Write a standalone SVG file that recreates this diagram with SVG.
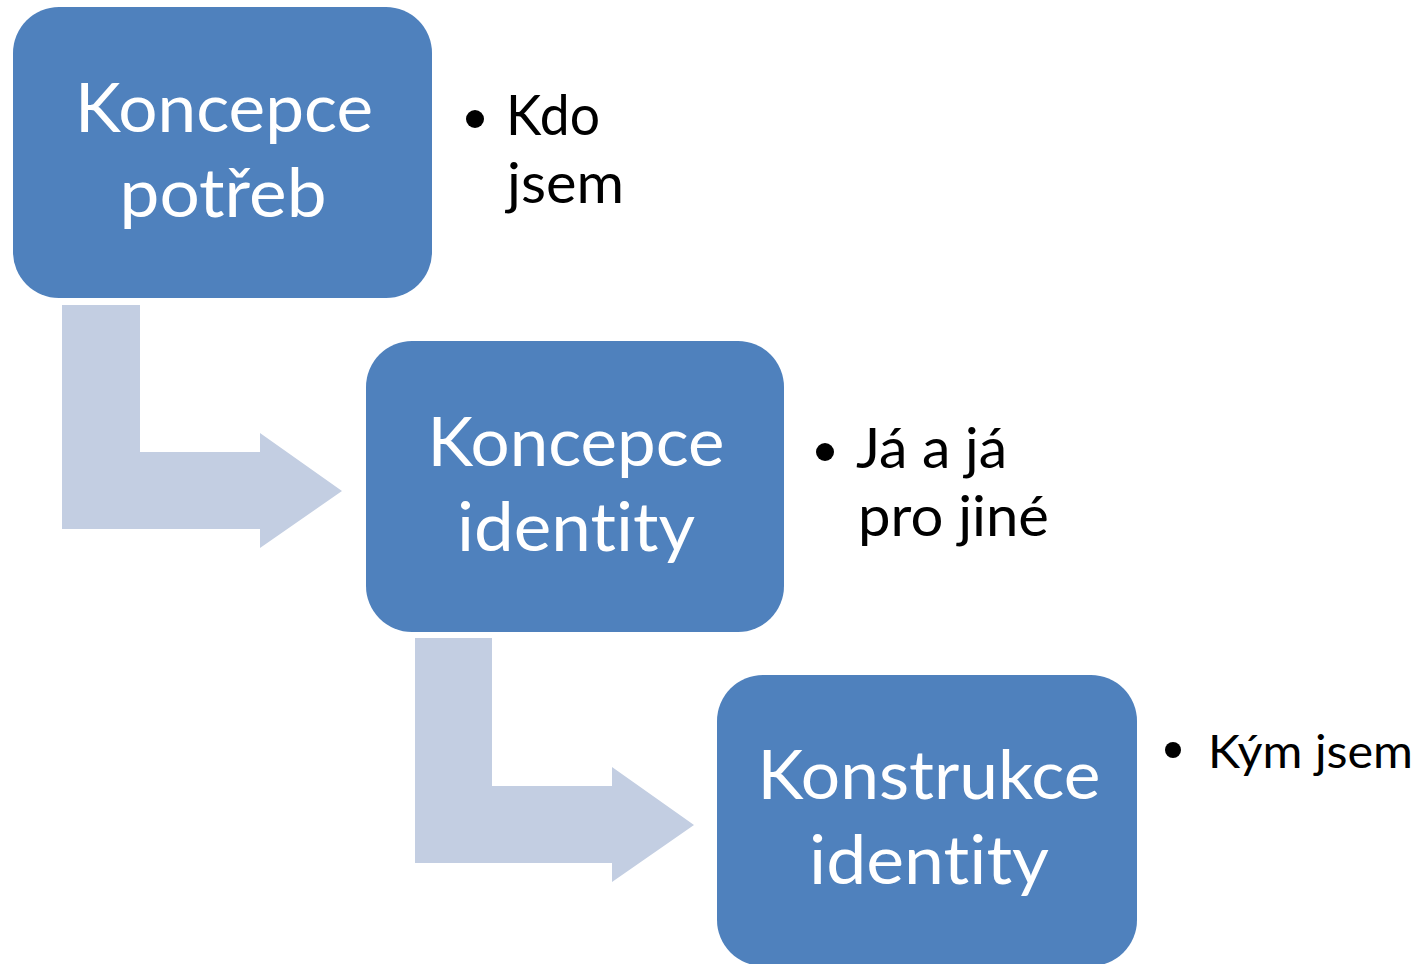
<svg xmlns="http://www.w3.org/2000/svg" width="1421" height="964" viewBox="0 0 1421 964">
<style>
text{font-variant-ligatures:none;font-feature-settings:"liga" 0,"dlig" 0}
.box{fill:#4F81BD}
.arrow{fill:#C3CEE2}
.bt{font-family:Lato,"Open Sans",sans-serif;font-size:68px;fill:#FFFFFF;text-anchor:middle}
.lt{font-family:Lato,"Open Sans",sans-serif;font-size:56px;fill:#000000}
.st{font-family:Lato,"Open Sans",sans-serif;font-size:46px;fill:#000000}
.dot{fill:#000000}
</style>
<rect width="1421" height="964" fill="#FFFFFF"/>
<g id="connectors">
<path class="arrow" d="M62,305 H140 V452 H260 V433 L342,491 L260,548 V529 H62 Z"/>
<path class="arrow" d="M415,638 H492 V786 H612 V767 L694,825 L612,882 V863 H415 Z"/>
</g>
<g id="node1">
<rect class="box" x="13" y="7" width="419" height="291" rx="46" ry="46"/>
<text class="bt" x="224" y="132" textLength="298" lengthAdjust="spacingAndGlyphs">Koncepce</text>
<text class="bt" x="223" y="217" textLength="207" lengthAdjust="spacingAndGlyphs">potřeb</text>
</g>
<g id="node2">
<rect class="box" x="366" y="341" width="418" height="291" rx="46" ry="46"/>
<text class="bt" x="576" y="466" textLength="297" lengthAdjust="spacingAndGlyphs">Koncepce</text>
<text class="bt" x="576" y="551" textLength="238" lengthAdjust="spacingAndGlyphs">identity</text>
</g>
<g id="node3">
<rect class="box" x="717" y="675" width="420" height="291" rx="46" ry="46"/>
<text class="bt" x="929" y="799" textLength="343" lengthAdjust="spacingAndGlyphs">Konstrukce</text>
<text class="bt" x="929" y="884" textLength="240" lengthAdjust="spacingAndGlyphs">identity</text>
</g>
<g id="note1">
<circle class="dot" cx="475" cy="119" r="9"/>
<text class="lt" x="506" y="135" textLength="94" lengthAdjust="spacingAndGlyphs">Kdo</text>
<text class="lt" x="507" y="203" textLength="117" lengthAdjust="spacingAndGlyphs">jsem</text>
</g>
<g id="note2">
<circle class="dot" cx="825" cy="452" r="9"/>
<text class="lt" x="856" y="468" textLength="151" lengthAdjust="spacingAndGlyphs">Já a já</text>
<text class="lt" x="858" y="536" textLength="191" lengthAdjust="spacingAndGlyphs">pro jiné</text>
</g>
<g id="note3">
<circle class="dot" cx="1173" cy="750" r="8"/>
<text class="st" x="1208" y="768" textLength="205" lengthAdjust="spacingAndGlyphs">Kým jsem</text>
</g>
</svg>
